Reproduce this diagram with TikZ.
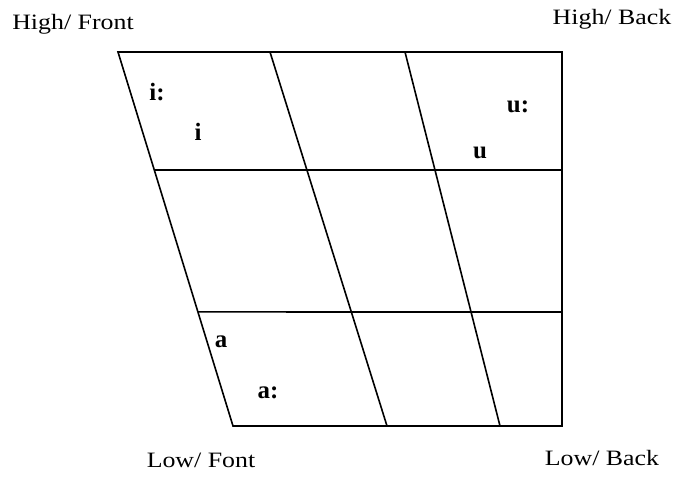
\documentclass[tikz,border=0pt]{standalone}
\usepackage{fontspec}
\setmainfont{Liberation Serif}
\newfontfamily\cornerfont[FakeStretch=1.18]{Liberation Serif}
\usetikzlibrary{calc}

\begin{document}
\begin{tikzpicture}[
  x=1bp, y=-1bp,
  grid/.style={line width=1.6bp, color=black},
  corner/.style={font=\cornerfont\fontsize{22}{26}\selectfont, inner sep=0pt},
  vowel/.style={font=\bfseries\fontsize{25}{30}\selectfont, inner sep=0pt, anchor=base}
]
\useasboundingbox (0,0) rectangle (682,478);

% outer corners of the chart
\coordinate (tl) at (118,52);
\coordinate (tr) at (562,52);
\coordinate (bl) at (233,426);
\coordinate (br) at (562,426);

% left ends of the two inner rows
\coordinate (ml1) at ($(tl)!0.3155!(bl)$);
\coordinate (ml2) at ($(tl)!0.695!(bl)$);
\coordinate (mr1) at (562,170);
\coordinate (mr2) at (562,312);

% slanted column lines
\coordinate (c1t) at (270,52);
\coordinate (c1b) at (387,426);
\coordinate (c2t) at (405,52);
\coordinate (c2b) at (500,426);

\draw[grid] (tl) -- (tr) -- (br) -- (bl) -- cycle;
\draw[grid] (ml1) -- (mr1);
\draw[grid] (ml2) -- (mr2);
\draw[grid] (c1t) -- (c1b);
\draw[grid] (c2t) -- (c2b);

% corner labels
\node[corner, anchor=base] (hf) at (73,30) {High/ Front};
\node[corner, anchor=base] (hb) at (612,25) {High/ Back};
\node[corner, anchor=base] (lf) at (201,467) {Low/ Font};
\node[corner, anchor=base] (lb) at (602,465) {Low/ Back};

% vowels
\node[vowel] (ilong) at (157,101) {i:};
\node[vowel] (ishort) at (198,141) {i};
\node[vowel] (ulong) at (518,113) {u:};
\node[vowel] (ushort) at (480,159) {u};
\node[vowel] (ashort) at (221,347) {a};
\node[vowel] (along) at (268,398) {a:};

\end{tikzpicture}
\end{document}
